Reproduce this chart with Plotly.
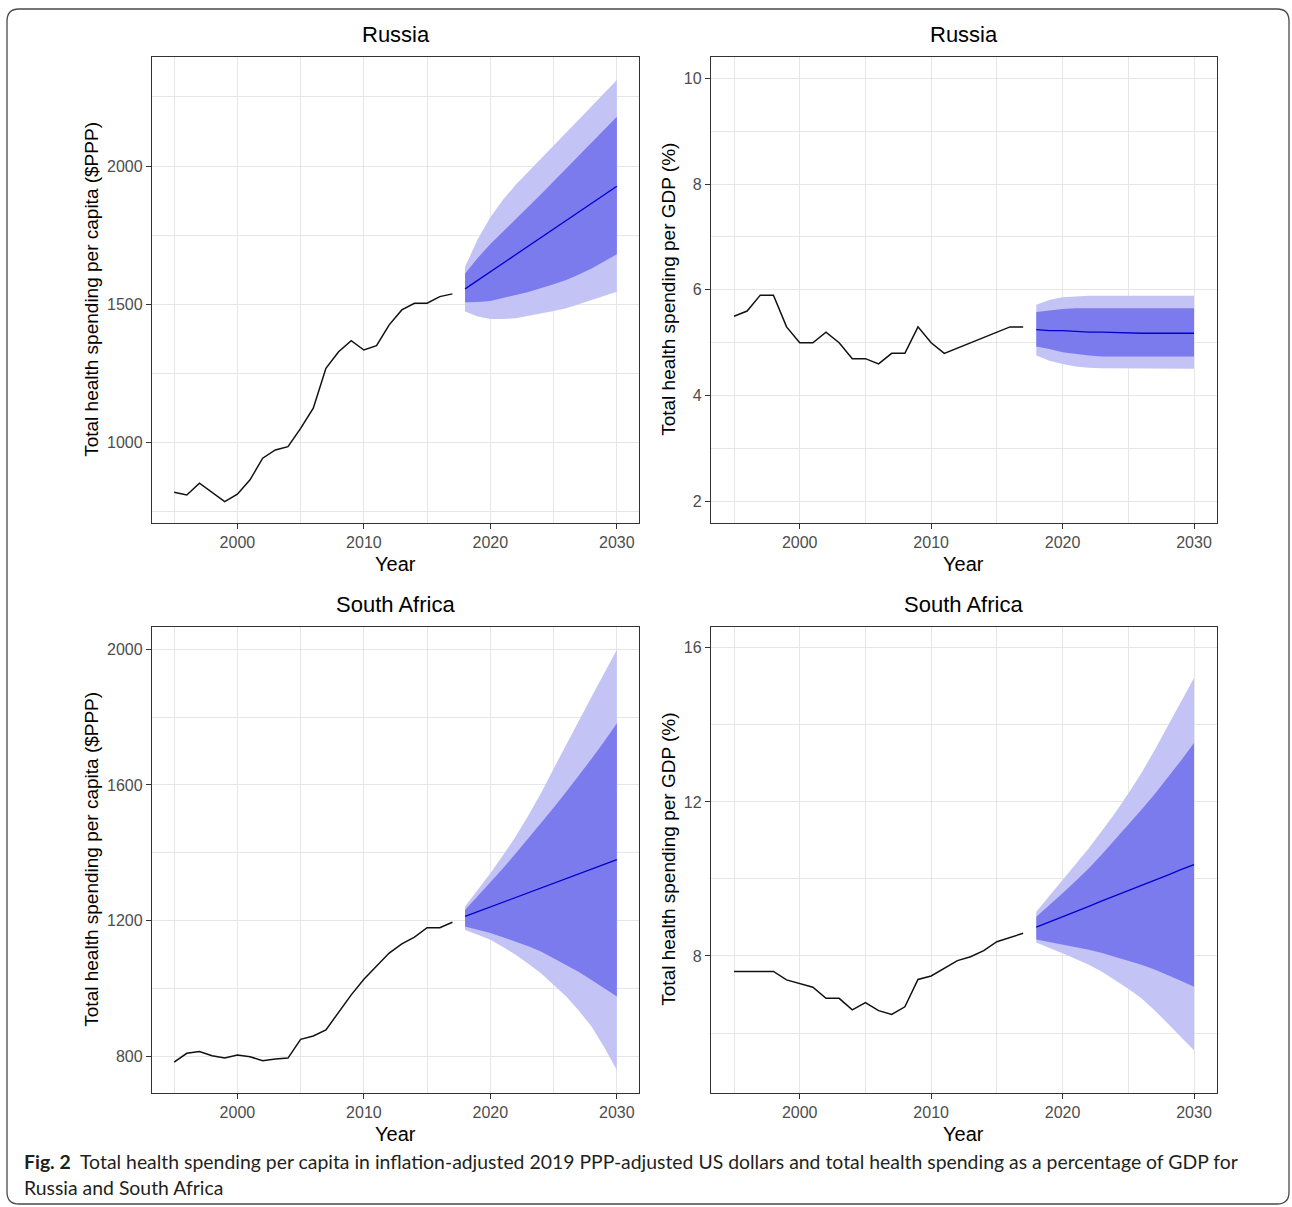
import plotly.graph_objects as go

# ---------------- data ----------------
hist_years = [1995, 1996, 1997, 1998, 1999, 2000, 2001, 2002, 2003, 2004, 2005, 2006,
              2007, 2008, 2009, 2010, 2011, 2012, 2013, 2014, 2015, 2016, 2017]
fc_years = [2018, 2019, 2020, 2021, 2022, 2023, 2024, 2025, 2026, 2027, 2028, 2029, 2030]

# Russia, per capita ($PPP)
ru_pc_hist = [821, 811, 854, 821, 787, 814, 866, 944, 974, 986, 1052, 1125,
              1269, 1329, 1369, 1335, 1351, 1426, 1480, 1504, 1504, 1528, 1538]
ru_pc_med = [1556, 1587, 1618, 1649, 1680, 1711, 1741, 1772, 1803, 1834, 1865, 1896, 1927]
ru_pc_hi80 = [1612, 1668, 1718, 1764, 1808, 1853, 1898, 1945, 1992, 2038, 2085, 2131, 2178]
ru_pc_lo80 = [1508, 1509, 1512, 1522, 1534, 1545, 1558, 1573, 1588, 1608, 1630, 1655, 1681]
ru_pc_hi95 = [1636, 1735, 1815, 1878, 1932, 1980, 2027, 2073, 2121, 2168, 2216, 2263, 2311]
ru_pc_lo95 = [1474, 1456, 1447, 1447, 1450, 1458, 1468, 1476, 1486, 1500, 1516, 1531, 1546]

# Russia, % of GDP
ru_gdp_hist = [5.5, 5.6, 5.9, 5.9, 5.3, 5.0, 5.0, 5.2, 5.0, 4.7, 4.7, 4.6,
               4.8, 4.8, 5.3, 5.0, 4.8, 4.9, 5.0, 5.1, 5.2, 5.3, 5.3]
ru_gdp_med = [5.25, 5.23, 5.23, 5.21, 5.20, 5.20, 5.19, 5.19, 5.18, 5.18, 5.18, 5.18, 5.18]
ru_gdp_hi80 = [5.58, 5.61, 5.64, 5.65, 5.65, 5.65, 5.65, 5.65, 5.65, 5.65, 5.65, 5.65, 5.65]
ru_gdp_lo80 = [4.93, 4.88, 4.82, 4.79, 4.76, 4.74, 4.74, 4.74, 4.74, 4.74, 4.74, 4.74, 4.74]
ru_gdp_hi95 = [5.72, 5.81, 5.86, 5.88, 5.89, 5.89, 5.89, 5.89, 5.89, 5.89, 5.89, 5.89, 5.89]
ru_gdp_lo95 = [4.76, 4.66, 4.60, 4.55, 4.53, 4.52, 4.51, 4.51, 4.51, 4.51, 4.51, 4.51, 4.51]

# South Africa, per capita ($PPP)
za_pc_hist = [784, 810, 815, 803, 796, 805, 800, 788, 793, 796, 851, 861,
              879, 930, 982, 1028, 1067, 1105, 1132, 1152, 1180, 1180, 1196]
za_pc_med = [1213, 1227, 1241, 1255, 1269, 1283, 1296, 1310, 1324, 1338, 1352, 1366, 1380]
za_pc_hi80 = [1232, 1272, 1313, 1355, 1398, 1442, 1487, 1533, 1580, 1628, 1677, 1728, 1782]
za_pc_lo80 = [1183, 1174, 1164, 1152, 1139, 1125, 1110, 1091, 1070, 1049, 1026, 1002, 977]
za_pc_hi95 = [1242, 1290, 1340, 1393, 1448, 1510, 1576, 1648, 1720, 1790, 1860, 1929, 1998]
za_pc_lo95 = [1173, 1159, 1144, 1123, 1100, 1074, 1046, 1013, 977, 935, 889, 828, 761]

# South Africa, % of GDP
za_gdp_hist = [7.6, 7.6, 7.6, 7.6, 7.38, 7.29, 7.19, 6.9, 6.9, 6.6, 6.79, 6.58,
               6.48, 6.68, 7.39, 7.48, 7.68, 7.88, 7.98, 8.14, 8.37, 8.49, 8.59]
za_gdp_med = [8.75, 8.89, 9.02, 9.16, 9.29, 9.43, 9.56, 9.70, 9.83, 9.97, 10.10, 10.24, 10.37]
za_gdp_hi80 = [9.02, 9.32, 9.63, 9.95, 10.28, 10.64, 11.02, 11.40, 11.80, 12.20, 12.62, 13.07, 13.53]
za_gdp_lo80 = [8.43, 8.36, 8.29, 8.23, 8.16, 8.08, 7.98, 7.88, 7.77, 7.65, 7.51, 7.36, 7.20]
za_gdp_hi95 = [9.15, 9.56, 9.98, 10.39, 10.80, 11.25, 11.71, 12.22, 12.75, 13.34, 13.96, 14.58, 15.22]
za_gdp_lo95 = [8.35, 8.21, 8.07, 7.93, 7.77, 7.59, 7.38, 7.15, 6.90, 6.59, 6.25, 5.91, 5.55]

panel_titles = ["Russia", "Russia", "South Africa", "South Africa"]
x_title = "Year"
y_title_pc = "Total health spending per capita ($PPP)"
y_title_gdp = "Total health spending per GDP (%)"
x_ticks = [2000, 2010, 2020, 2030]
caption_1 = ("<b>Fig. 2</b>  Total health spending per capita in inflation-adjusted 2019 "
             "PPP-adjusted US dollars and total health spending as a percentage of GDP for")
caption_2 = "Russia and South Africa"

# ---------------- layout geometry (page pixels) ----------------
W, H = 1292, 1207
def fx(px):
    return px / W
def fy(py):
    return 1 - py / H

cols = [(152, 639), (711, 1217)]
rows = [(57, 522.7), (626.7, 1092.7)]

DARK = "#7B7BEE"
LIGHT = "#C3C3F5"
MED = "#0000CC"
FONT = "Liberation Sans, Arial, sans-serif"
GRID = "#E6E6E6"

panels = [
    dict(hist=ru_pc_hist, med=ru_pc_med, hi80=ru_pc_hi80, lo80=ru_pc_lo80,
         hi95=ru_pc_hi95, lo95=ru_pc_lo95, yr=[711, 2394], dt=500, t0=1000,
         mdt=250, mt0=750, ytitle=y_title_pc, yoff=60),
    dict(hist=ru_gdp_hist, med=ru_gdp_med, hi80=ru_gdp_hi80, lo80=ru_gdp_lo80,
         hi95=ru_gdp_hi95, lo95=ru_gdp_lo95, yr=[1.6, 10.4], dt=2, t0=2,
         mdt=1, mt0=1, ytitle=y_title_gdp, yoff=42),
    dict(hist=za_pc_hist, med=za_pc_med, hi80=za_pc_hi80, lo80=za_pc_lo80,
         hi95=za_pc_hi95, lo95=za_pc_lo95, yr=[694, 2066], dt=400, t0=800,
         mdt=200, mt0=600, ytitle=y_title_pc, yoff=60),
    dict(hist=za_gdp_hist, med=za_gdp_med, hi80=za_gdp_hi80, lo80=za_gdp_lo80,
         hi95=za_gdp_hi95, lo95=za_gdp_lo95, yr=[4.45, 16.55], dt=4, t0=8,
         mdt=2, mt0=6, ytitle=y_title_gdp, yoff=42),
]

fig = go.Figure()
annotations = []
layout_axes = {}

for i, p in enumerate(panels):
    r, c = divmod(i, 2)
    n = "" if i == 0 else str(i + 1)
    xa, ya = "x" + n, "y" + n
    x0, x1 = cols[c]
    top, bot = rows[r]

    band_x = fc_years + fc_years[::-1]
    fig.add_trace(go.Scatter(x=band_x, y=p["hi95"] + p["lo95"][::-1], fill="toself",
                             fillcolor=LIGHT, line=dict(width=0), mode="lines",
                             hoverinfo="skip", showlegend=False, xaxis=xa, yaxis=ya))
    fig.add_trace(go.Scatter(x=band_x, y=p["hi80"] + p["lo80"][::-1], fill="toself",
                             fillcolor=DARK, line=dict(width=0), mode="lines",
                             hoverinfo="skip", showlegend=False, xaxis=xa, yaxis=ya))
    fig.add_trace(go.Scatter(x=fc_years, y=p["med"], mode="lines",
                             line=dict(color=MED, width=1.3),
                             showlegend=False, xaxis=xa, yaxis=ya))
    fig.add_trace(go.Scatter(x=hist_years, y=p["hist"], mode="lines",
                             line=dict(color="#111111", width=1.5),
                             showlegend=False, xaxis=xa, yaxis=ya))

    common = dict(showline=True, mirror=True, linecolor="#333333", linewidth=1.3,
                  ticks="outside", ticklen=5, tickwidth=1.1, tickcolor="#333333",
                  showgrid=True, gridcolor=GRID, gridwidth=1.4, zeroline=False,
                  tickfont=dict(family=FONT, size=16, color="#4D4D4D"))
    layout_axes["xaxis" + n] = dict(
        common, domain=[fx(x0), fx(x1)], anchor=ya, range=[1993.25, 2031.75],
        tickvals=x_ticks, ticktext=[str(v) for v in x_ticks],
        minor=dict(dtick=5, tick0=1995, showgrid=True, gridcolor=GRID,
                   gridwidth=1.1, ticklen=0))
    layout_axes["yaxis" + n] = dict(
        common, domain=[fy(bot), fy(top)], anchor=xa, range=p["yr"],
        dtick=p["dt"], tick0=p["t0"],
        minor=dict(dtick=p["mdt"], tick0=p["mt0"], showgrid=True, gridcolor=GRID,
                   gridwidth=1.1, ticklen=0))

    cx = (x0 + x1) / 2
    annotations.append(dict(text=panel_titles[i], x=fx(cx), y=fy(top - 22),
                            xref="paper", yref="paper", showarrow=False,
                            xanchor="center", yanchor="middle",
                            font=dict(family=FONT, size=22, color="#000000")))
    annotations.append(dict(text=x_title, x=fx(cx), y=fy(bot + 41),
                            xref="paper", yref="paper", showarrow=False,
                            xanchor="center", yanchor="middle",
                            font=dict(family=FONT, size=20, color="#000000")))
    annotations.append(dict(text=p["ytitle"], x=fx(x0 - p["yoff"]), y=fy((top + bot) / 2),
                            xref="paper", yref="paper", showarrow=False, textangle=-90,
                            xanchor="center", yanchor="middle",
                            font=dict(family=FONT, size=19, color="#000000")))

annotations.append(dict(text=caption_1, x=fx(22), y=fy(1161), xref="paper", yref="paper",
                        showarrow=False, xanchor="left", yanchor="middle",
                        font=dict(family="Lato, Open Sans, sans-serif", size=19.4, color="#231F20")))
annotations.append(dict(text=caption_2, x=fx(22), y=fy(1187), xref="paper", yref="paper",
                        showarrow=False, xanchor="left", yanchor="middle",
                        font=dict(family="Lato, Open Sans, sans-serif", size=19.4, color="#231F20")))

# rounded frame around the whole figure
L, T, R, B, rad = 7, 9, 1289, 1204, 12
path = (f"M {fx(L + rad)},{fy(T)} L {fx(R - rad)},{fy(T)} Q {fx(R)},{fy(T)} {fx(R)},{fy(T + rad)} "
        f"L {fx(R)},{fy(B - rad)} Q {fx(R)},{fy(B)} {fx(R - rad)},{fy(B)} "
        f"L {fx(L + rad)},{fy(B)} Q {fx(L)},{fy(B)} {fx(L)},{fy(B - rad)} "
        f"L {fx(L)},{fy(T + rad)} Q {fx(L)},{fy(T)} {fx(L + rad)},{fy(T)} Z")
shapes = [dict(type="path", path=path, xref="paper", yref="paper",
               line=dict(color="#4A4A4A", width=1.3), fillcolor="rgba(0,0,0,0)")]

fig.update_layout(width=W, height=H, autosize=False,
                  margin=dict(l=0, r=0, t=0, b=0, pad=0),
                  paper_bgcolor="white", plot_bgcolor="white",
                  showlegend=False, annotations=annotations, shapes=shapes,
                  **layout_axes)

fig.write_html("out.html", config={"displayModeBar": False},
               post_script="document.body.style.margin='0px';")
